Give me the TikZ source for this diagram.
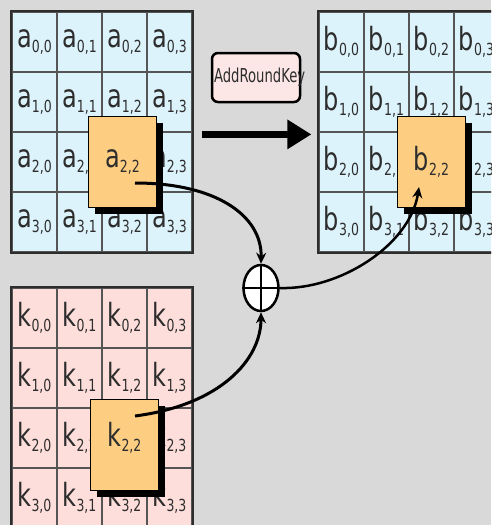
\documentclass[tikz,border=0pt]{standalone}
\usepackage{fontspec}
\setmainfont{DejaVu Sans}
\usepackage{graphicx}
\usepackage{tikz}
\usetikzlibrary{arrows.meta,positioning,shapes.geometric,shadows}
\definecolor{bggray}{RGB}{217,217,217}
\definecolor{cellblue}{RGB}{221,243,252}
\definecolor{cellpink}{RGB}{253,222,218}
\definecolor{hiorange}{RGB}{253,206,130}
\definecolor{keypink}{RGB}{252,230,230}
\definecolor{gridgray}{RGB}{85,85,85}
\definecolor{inkgray}{RGB}{45,45,45}
\newcommand\celltext[2]{\scalebox{1}[1.33]{\fontsize{24}{26}\selectfont #1\raisebox{-3.5pt}{\fontsize{12.5}{13}\selectfont #2}}}
\tikzset{
  cell/.style={draw=gridgray, line width=1.2pt, minimum width=45pt,
               minimum height=60pt, inner sep=0pt, text=inkgray},
  bluecell/.style={cell, fill=cellblue},
  pinkcell/.style={cell, fill=cellpink},
  frame/.style={draw=inkgray, line width=2pt},
  hibox/.style={draw=black, line width=1.2pt, fill=hiorange, text=inkgray,
                minimum width=68pt, minimum height=91pt, inner sep=0pt,
                drop shadow={shadow xshift=6pt, shadow yshift=-6pt,
                             fill=black, opacity=1}},
  keybox/.style={draw=black, line width=2.5pt, rounded corners=6pt,
                 fill=keypink, minimum width=88pt, minimum height=49pt,
                 inner sep=0pt, text=inkgray},
  xorop/.style={ellipse, draw=black, line width=2.5pt, fill=white,
                minimum width=35pt, minimum height=46pt, inner sep=0pt},
  link/.style={-{Stealth[length=11pt,width=10pt]}, line width=3pt},
  bigarrow/.style={-{Triangle[length=24pt,width=28pt]}, line width=6.5pt}
}
\begin{document}
\begin{tikzpicture}[x=1pt,y=-1pt]
  \clip (0,0) rectangle (491,525);
  \fill[bggray] (0,0) rectangle (491,525);
  % state, result and round key matrices
  \foreach \r in {0,...,3}
    \foreach \c in {0,...,3} {
      \node[bluecell] (a-\r-\c) at ({34.5+45*\c},{42+60*\r}) {\celltext{a}{\r,\c}};
      \node[bluecell] (b-\r-\c) at ({341.5+45*\c},{42+60*\r}) {\celltext{b}{\r,\c}};
      \node[pinkcell] (k-\r-\c) at ({34.5+45*\c},{318+60*\r}) {\celltext{k}{\r,\c}};
    }
  \draw[frame] (a-0-0.north west) rectangle (a-3-3.south east);
  \draw[frame] (b-0-0.north west) rectangle (b-3-3.south east);
  \draw[frame] (k-0-0.north west) rectangle (k-3-3.south east);
  % picked bytes
  \node[hibox, xshift=-2pt] (a22) at (a-2-2) {\celltext{a}{2,2}};
  \node[hibox] (b22) at (b-2-2) {\celltext{b}{2,2}};
  \node[hibox, yshift=-7pt] (k22) at (k-2-2) {};
  \node[inner sep=0pt, text=inkgray] (k22t) at (k-2-2) {\celltext{k}{2,2}};
  % step label and arrow
  \node[keybox] (ark) at (256,77.5)
    {\makebox[84pt][l]{\scalebox{1}[1.45]{\fontsize{13.2}{14}\selectfont AddRoundKey}}};
  \draw[bigarrow] ([xshift=9pt,yshift=-3pt]a-2-3.north east)
    -- ([xshift=-7pt,yshift=-3pt]b-2-0.north west);
  % xor
  \node[xorop] (xor) at (261,288) {};
  \draw[line width=1.2pt] (xor.north) -- (xor.south) (xor.west) -- (xor.east);
  \draw[link] ([xshift=12.5pt,yshift=-21pt]a22.center)
    .. controls (215,183) and (262,215) .. (xor.north);
  \draw[link] ([xshift=10.5pt,yshift=29pt]k22.center)
    .. controls (220,405) and (261,360) .. (xor.south);
  \draw[link, line width=2.5pt] (xor.east)
    .. controls (340,290) and (410,245) .. ([xshift=-12.5pt,yshift=-25pt]b22.center);
\end{tikzpicture}
\end{document}
